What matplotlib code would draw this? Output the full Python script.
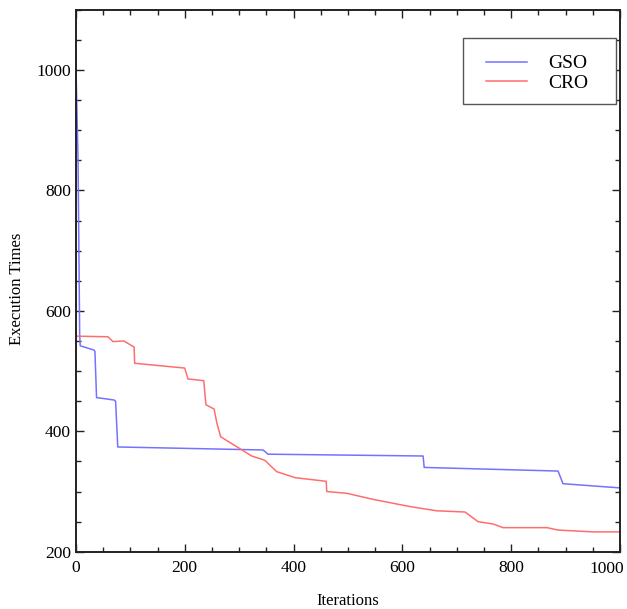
import matplotlib
matplotlib.use("Agg")
import matplotlib.pyplot as plt
from matplotlib.patches import Rectangle
from matplotlib.ticker import MultipleLocator, FuncFormatter
from matplotlib.transforms import ScaledTranslation

# GSO (blue) curve
gso_x = [0, 4, 7, 8, 33, 35, 38, 70, 73, 77, 344, 353, 638, 640, 886, 895, 1000]
gso_y = [1012, 850, 560, 542, 535, 533, 456, 452, 450, 374, 369, 362, 359, 340, 334, 313, 306]

# CRO (red) curve
cro_x = [0, 59, 68, 88, 107, 108, 200, 206, 235, 239, 254, 259, 266, 323, 347,
         369, 403, 460, 461, 498, 546, 614, 663, 715, 739, 767, 785, 866, 886,
         950, 1000]
cro_y = [558, 557, 549, 550, 540, 513, 505, 487, 484, 444, 437, 414, 391, 359, 352,
         333, 323, 317, 300, 297, 287, 275, 268, 266, 250, 246, 240, 240, 236,
         233, 233]

X_MAX = 1000

BLUE = "#7373ff"
RED = "#ff6e6e"

plt.rcParams["font.family"] = ["Liberation Serif", "DejaVu Serif"]

fig = plt.figure(figsize=(6.27, 6.09), dpi=100)
ax = fig.add_axes([0.121, 0.094, 0.868, 0.89])

ax.plot(gso_x, gso_y, color=BLUE, lw=1.1, label="GSO")
ax.plot(cro_x, cro_y, color=RED, lw=1.1, label="CRO")

ax.set_xlim(0, X_MAX)
ax.set_ylim(200, 1100)
ax.xaxis.set_major_locator(MultipleLocator(200))
ax.xaxis.set_minor_locator(MultipleLocator(50))
ax.yaxis.set_major_locator(MultipleLocator(200))
ax.yaxis.set_minor_locator(MultipleLocator(50))
# last x label is drawn separately, pulled in from the figure edge
ax.xaxis.set_major_formatter(FuncFormatter(lambda v, _: "" if v >= X_MAX else f"{v:g}"))
ax.tick_params(which="both", direction="in", top=True, right=True,
               labelsize=12.5, color="#222222", width=1.0)
ax.tick_params(which="major", length=6)
ax.tick_params(which="minor", length=3.5)
ax.tick_params(axis="x", pad=6)
for s in ax.spines.values():
    s.set_color("#222222")
    s.set_linewidth(1.4)

off = ScaledTranslation(-13 / 100, -9 / 100, fig.dpi_scale_trans)
ax.text(X_MAX, 0, f"{X_MAX}", transform=ax.get_xaxis_transform() + off,
        ha="center", va="top", fontsize=12.5)

ax.set_xlabel("Iterations", fontsize=12, labelpad=12)
ax.set_ylabel("Execution Times", fontsize=12)
ax.yaxis.set_label_coords(-0.094, 0.485)

# legend: frame drawn as its own box, wider than the entries
ax.add_patch(Rectangle((0.711, 0.8266), 0.281, 0.122, transform=ax.transAxes,
                       fill=True, facecolor="white", edgecolor="#555555",
                       lw=1.0, zorder=4))
leg = ax.legend(loc="upper left", bbox_to_anchor=(0.754, 0.917), borderaxespad=0,
                fontsize=14, frameon=False, handlelength=2.1,
                handletextpad=1.1, borderpad=0, labelspacing=0.1)
leg.set_zorder(5)

fig.savefig("out.png", dpi=100)
